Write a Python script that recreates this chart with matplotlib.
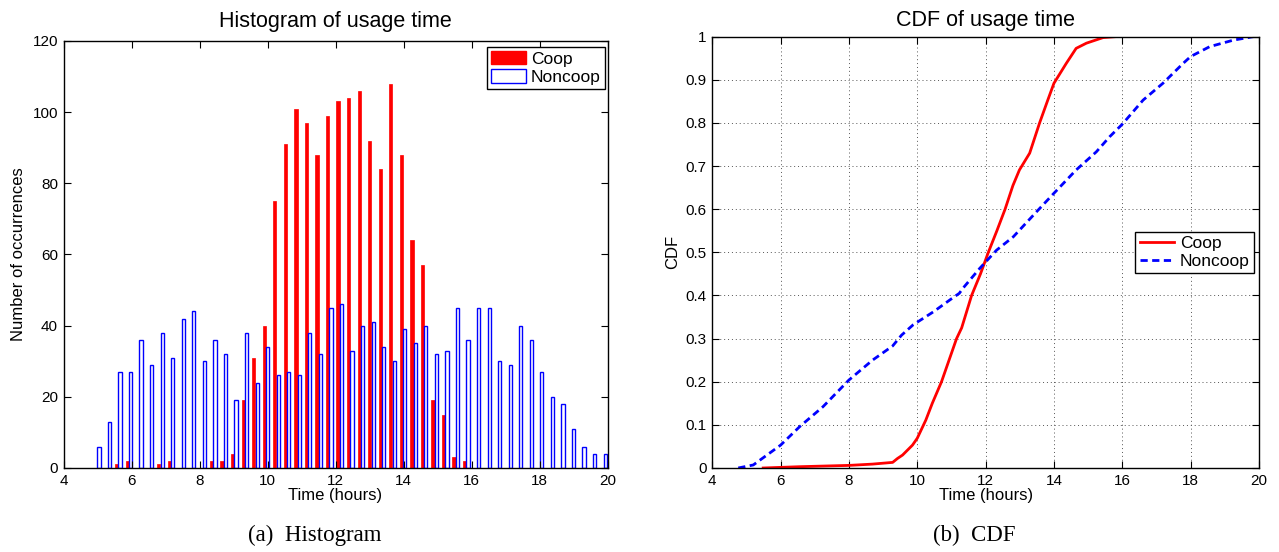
import numpy as np
import matplotlib
matplotlib.use("Agg")
import matplotlib.pyplot as plt
from matplotlib.patches import Patch

# ---------------- data ----------------
# histogram bin centres (hours), 49 equal bins
bin_centers = np.linspace(4.99, 19.88, 49)
coop_counts = [0, 0, 1, 2, 0, 0, 1, 2, 0, 0, 0, 2, 2, 4, 19, 31, 40, 75, 91, 101,
               97, 88, 99, 103, 104, 106, 92, 84, 108, 88, 64, 57, 19, 15, 3, 2,
               0, 0, 0, 0, 0, 0, 0, 0, 0, 0, 0, 0, 0]
noncoop_counts = [6, 13, 27, 27, 36, 29, 38, 31, 42, 44, 30, 36, 32, 19, 38, 24, 34,
                  26, 27, 26, 38, 32, 45, 46, 33, 40, 41, 34, 30, 39, 35, 40, 32, 33,
                  45, 36, 45, 45, 30, 29, 40, 36, 27, 20, 18, 11, 6, 4, 4]

# CDF curves (hours, cumulative fraction)
coop_cdf_x = [5.49, 6.56, 8.0, 8.69, 9.28, 9.42, 9.57, 9.86, 10.0, 10.25, 10.44,
              10.71, 10.93, 11.15, 11.3, 11.59, 11.85, 12.08, 12.33, 12.57, 12.8,
              12.99, 13.29, 13.58, 13.82, 14.0, 14.36, 14.65, 14.95, 15.44, 15.78]
coop_cdf_y = [0.0, 0.003, 0.006, 0.009, 0.013, 0.022, 0.03, 0.053, 0.069, 0.111,
              0.15, 0.2, 0.25, 0.3, 0.325, 0.4, 0.45, 0.5, 0.55, 0.6, 0.655,
              0.691, 0.73, 0.8, 0.853, 0.892, 0.938, 0.973, 0.985, 0.998, 1.0]
noncoop_cdf_x = [4.76, 5.2, 6.0, 6.56, 7.24, 8.0, 8.69, 9.28, 9.54, 9.88, 10.47,
                 10.96, 11.23, 11.35, 11.83, 12.32, 12.81, 13.49, 14.0, 14.65,
                 15.24, 15.63, 16.0, 16.61, 17.19, 17.78, 18.0, 18.56, 19.25, 19.83]
noncoop_cdf_y = [0.0, 0.007, 0.053, 0.096, 0.142, 0.204, 0.25, 0.283, 0.308, 0.332,
                 0.362, 0.39, 0.405, 0.418, 0.463, 0.505, 0.536, 0.594, 0.637, 0.691,
                 0.733, 0.768, 0.797, 0.853, 0.892, 0.938, 0.954, 0.977, 0.992, 1.0]

series_names = ["Coop", "Noncoop"]
x_ticks = [4, 6, 8, 10, 12, 14, 16, 18, 20]
hist_yticks = [0, 20, 40, 60, 80, 100, 120]
cdf_yticks = [0, 0.1, 0.2, 0.3, 0.4, 0.5, 0.6, 0.7, 0.8, 0.9, 1]
cdf_ylabels = ["0", "0.1", "0.2", "0.3", "0.4", "0.5", "0.6", "0.7", "0.8", "0.9", "1"]

# ---------------- style ----------------
plt.rcParams['font.family'] = ['Liberation Sans', 'DejaVu Sans']
plt.rcParams['font.size'] = 11

TITLE_FS = 15.5
LABEL_FS = 12
TICK_FS = 11
LEG_FS = 12.5
SERIF = ['Liberation Serif', 'DejaVu Serif']

fig = plt.figure(figsize=(12.79, 5.52), dpi=100)

def style_axes(ax):
    ax.tick_params(direction='in', top=True, right=True, length=5, width=0.8,
                   labelsize=TICK_FS, pad=4, colors='black')
    for s in ax.spines.values():
        s.set_linewidth(1.0)
        s.set_color('black')

# ---------------- histogram ----------------
ax1 = fig.add_axes([0.0497, 0.1522, 0.4253, 0.7736])
bw = 0.095
centers = np.asarray(bin_centers)
ax1.bar(centers - 0.05, coop_counts, width=bw, color='red', edgecolor='red',
        linewidth=0.5, label=series_names[0])
ax1.bar(centers + 0.05, noncoop_counts, width=bw, color='white', edgecolor='blue',
        linewidth=1.0, label=series_names[1])
ax1.set_xlim(4, 20)
ax1.set_ylim(0, 120)
ax1.set_xticks(x_ticks)
ax1.set_yticks(hist_yticks)
ax1.set_title("Histogram of usage time", fontsize=TITLE_FS, pad=10)
ax1.set_xlabel("Time (hours)", fontsize=LABEL_FS, labelpad=0)
ax1.set_ylabel("Number of occurrences", fontsize=LABEL_FS, labelpad=5)
style_axes(ax1)
h1 = [Patch(facecolor='red', edgecolor='red', label=series_names[0]),
      Patch(facecolor='white', edgecolor='blue', label=series_names[1])]
leg1 = ax1.legend(handles=h1, loc='upper right',
                  bbox_to_anchor=(1 - 2.5 / 544, 1 - 5.7 / 427),
                  borderaxespad=0, fontsize=LEG_FS, frameon=True,
                  fancybox=False, edgecolor='black', framealpha=1,
                  handlelength=2.0, handleheight=0.8,
                  handletextpad=0.3, borderpad=0.25, labelspacing=0.15)
leg1.get_frame().set_linewidth(1.0)

# ---------------- CDF ----------------
ax2 = fig.add_axes([0.5569, 0.1522, 0.4274, 0.7813])
ax2.plot(coop_cdf_x, coop_cdf_y, color='red', linewidth=2.0, label=series_names[0])
ax2.plot(noncoop_cdf_x, noncoop_cdf_y, color='blue', linewidth=2.0,
         linestyle=(0, (2.6, 1.6)), label=series_names[1])
ax2.set_xlim(4, 20)
ax2.set_ylim(0, 1)
ax2.set_xticks(x_ticks)
ax2.set_yticks(cdf_yticks)
ax2.set_yticklabels(cdf_ylabels)
ax2.grid(True, linestyle=(0, (1, 3)), color='#555555', linewidth=0.7)
ax2.set_title("CDF of usage time", fontsize=TITLE_FS, pad=7.5)
ax2.set_xlabel("Time (hours)", fontsize=LABEL_FS, labelpad=0)
ax2.set_ylabel("CDF", fontsize=LABEL_FS, labelpad=4)
style_axes(ax2)
leg2 = ax2.legend(loc='center right', bbox_to_anchor=(1 - 5 / 547, 0.5),
                  borderaxespad=0, fontsize=LEG_FS, frameon=True, fancybox=False,
                  edgecolor='black', framealpha=1,
                  handlelength=2.0, handletextpad=0.3, borderpad=0.25,
                  labelspacing=0.15)
leg2.get_frame().set_linewidth(1.0)

# ---------------- captions ----------------
fig.text(0.246, 0.02, "(a)  Histogram", ha='center', va='baseline',
         fontsize=16.5, family=SERIF)
fig.text(0.762, 0.02, "(b)  CDF", ha='center', va='baseline',
         fontsize=16.5, family=SERIF)

fig.savefig("out.png", dpi=100)
